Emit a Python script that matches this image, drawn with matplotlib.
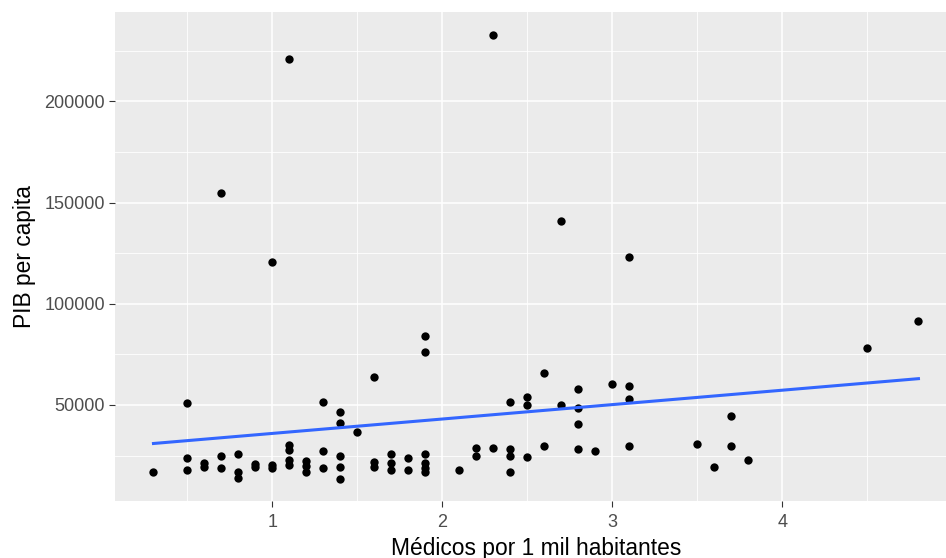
import matplotlib.pyplot as plt
import numpy as np

plt.rcParams['font.family'] = ['Liberation Sans', 'DejaVu Sans']

# médicos por 1 mil habitantes, PIB per capita
medicos = [0.3,
           0.5, 0.5, 0.5,
           0.6, 0.6,
           0.7, 0.7, 0.7,
           0.8, 0.8, 0.8,
           0.9, 0.9,
           1.0, 1.0, 1.0,
           1.1, 1.1, 1.1, 1.1, 1.1,
           1.2, 1.2, 1.2,
           1.3, 1.3, 1.3,
           1.4, 1.4, 1.4, 1.4, 1.4,
           1.5,
           1.6, 1.6, 1.6,
           1.7, 1.7, 1.7,
           1.8, 1.8,
           1.9, 1.9, 1.9, 1.9, 1.9, 1.9,
           2.1,
           2.2, 2.2,
           2.3, 2.3,
           2.4, 2.4, 2.4, 2.4,
           2.5, 2.5, 2.5,
           2.6, 2.6,
           2.7, 2.7,
           2.8, 2.8, 2.8, 2.8,
           2.9,
           3.0,
           3.1, 3.1, 3.1, 3.1,
           3.5, 3.6, 3.7, 3.7, 3.8,
           4.5, 4.8]
pib = [17000,
       50800, 24000, 17900,
       21300, 19400,
       155000, 25000, 18700,
       25600, 17000, 14000,
       21000, 19300,
       120500, 20300, 18900,
       221000, 30200, 27800, 22800, 20500,
       22300, 19900, 16900,
       51500, 27300, 19100,
       46700, 41300, 25000, 19500, 13300,
       36700,
       64000, 21800, 19400,
       25800, 21200, 17800,
       24000, 17900,
       84100, 76300, 25800, 21500, 19000, 16800,
       18000,
       28500, 24700,
       233000, 28900,
       51500, 28200, 24900, 17000,
       54100, 50000, 24200,
       65600, 29800,
       141000, 49900,
       57800, 48400, 40500, 28100,
       27300,
       60200,
       123000, 59400, 53000, 29800,
       30600, 19500, 44600, 29800, 22700,
       78000, 91500]

x = np.array(medicos)
y = np.array(pib)

fig = plt.figure(figsize=(9.46, 5.58), dpi=100)
ax = fig.add_axes([0.1218, 0.1013, 0.8895, 0.8763])
ax.set_facecolor('#EBEBEB')

# ggplot-like 5% expansion
xr = x.max() - x.min()
yr = y.max() - y.min()
ax.set_xlim(x.min() - 0.05 * xr, x.max() + 0.05 * xr)
ax.set_ylim(y.min() - 0.05 * yr, y.max() + 0.05 * yr)

ax.set_xticks([1, 2, 3, 4, 5])
ax.set_xticks([0.5, 1.5, 2.5, 3.5, 4.5], minor=True)
ax.set_yticks([50000, 100000, 150000, 200000])
ax.set_yticks([25000, 75000, 125000, 175000, 225000], minor=True)
ax.grid(True, which='major', color='white', linewidth=1.1)
ax.grid(True, which='minor', color='white', linewidth=0.6)
ax.set_axisbelow(True)
for s in ax.spines.values():
    s.set_visible(False)

ax.tick_params(which='major', length=4.3, width=0.8, color='#333333',
               labelsize=13, labelcolor='#4D4D4D', pad=3)
ax.tick_params(axis='x', which='major', pad=4.5)
ax.tick_params(which='minor', length=0)

ax.scatter(x, y, s=36, color='black', zorder=3, linewidths=0)

# lm fit, like geom_smooth(method = "lm", se = FALSE)
b, a = np.polyfit(x, y, 1)
xs = np.linspace(x.min(), x.max(), 80)
ax.plot(xs, a + b * xs, color='#3366FF', linewidth=2.2, zorder=4)

ax.set_xlabel('Médicos por 1 mil habitantes', fontsize=16.4, labelpad=4.5)
ax.set_ylabel('PIB per capita', fontsize=16.4, labelpad=6)

fig.savefig('out.png', dpi=100)
